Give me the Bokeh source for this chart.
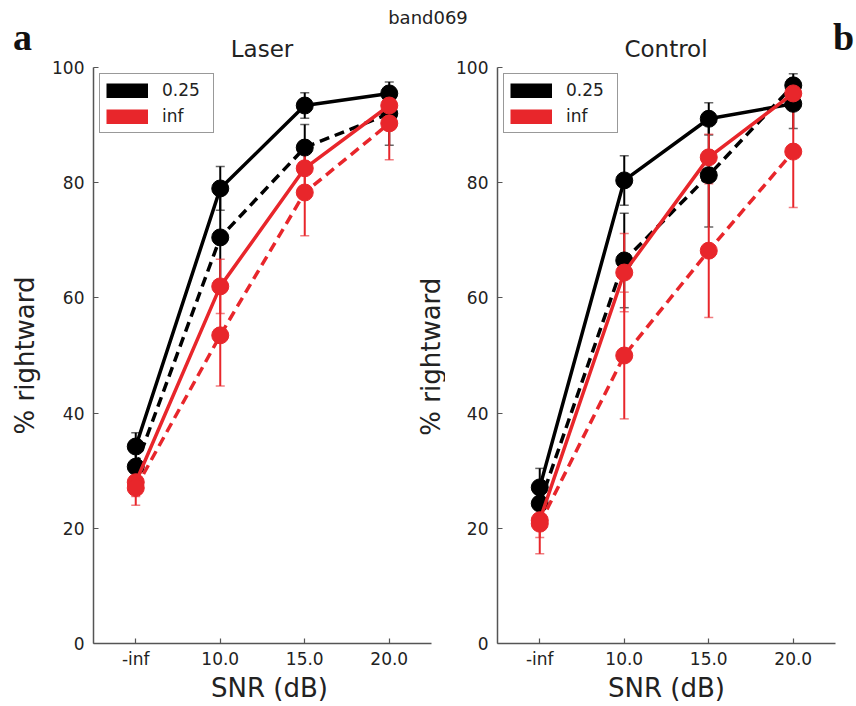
import math
from bokeh.plotting import figure
from bokeh.models import (Range1d, Whisker, TeeHead, ColumnDataSource,
                          Legend, LegendItem, Label, FixedTicker, Div)
from bokeh.layouts import row, column
from bokeh.embed import file_html
from bokeh.resources import INLINE

# ---------------- data ----------------
snr_labels = ["-inf", "10.0", "15.0", "20.0"]
legend_labels = ["0.25", "inf"]
suptitle = "band069"
panel_titles = ["Laser", "Control"]
panel_letters = ["a", "b"]
y_label = "% rightward"
x_label = "SNR (dB)"

laser_black_solid = [34.2, 79.0, 93.4, 95.5]
laser_black_solid_err = [2.4, 3.8, 2.2, 1.2]
laser_black_dashed = [30.7, 70.5, 86.1, 92.0]
laser_black_dashed_err = [2.5, 7.8, 4.0, 5.5]
laser_red_solid = [28.0, 62.0, 82.5, 93.4]
laser_red_solid_err = [2.5, 4.7, 4.0, 2.5]
laser_red_dashed = [27.0, 53.5, 78.3, 90.3]
laser_red_dashed_err = [3.0, 8.8, 7.5, 6.3]

control_black_solid = [27.1, 80.4, 91.1, 93.7]
control_black_solid_err = [3.3, 4.3, 2.8, 4.3]
control_black_dashed = [24.3, 66.5, 81.3, 96.9]
control_black_dashed_err = [3.0, 8.2, 9.0, 2.0]
control_red_solid = [21.4, 64.4, 84.4, 95.5]
control_red_solid_err = [3.0, 6.8, 4.0, 2.5]
control_red_dashed = [20.8, 50.0, 68.2, 85.4]
control_red_dashed_err = [5.2, 11.0, 11.6, 9.7]

FONT = "DejaVu Sans"
RED = "#e8262b"
BLACK = "#000000"
AXC = "#555555"
TXT = "#222222"
XPOS = list(range(len(snr_labels)))


def add_series(p, vals, errs, color, dash):
    src = ColumnDataSource(dict(x=XPOS, y=vals,
                                lo=[v - e for v, e in zip(vals, errs)],
                                hi=[v + e for v, e in zip(vals, errs)]))
    w = Whisker(base="x", lower="lo", upper="hi", source=src,
                line_color=color, line_width=2,
                lower_head=TeeHead(size=9, line_color=color, line_width=1.5, line_alpha=0.6),
                upper_head=TeeHead(size=9, line_color=color, line_width=1.5, line_alpha=0.6))
    p.add_layout(w)
    p.line("x", "y", source=src, line_color=color, line_width=3.5, line_dash=dash)
    p.scatter("x", "y", source=src, size=17, fill_color=color, line_color=color)


def make_panel(series, width, bl, br, x_end):
    p = figure(width=width, height=649,
               x_range=Range1d(-0.5, x_end), y_range=Range1d(0, 100),
               output_backend="svg", toolbar_location=None,
               min_border_left=bl, min_border_right=br,
               min_border_top=10, min_border_bottom=63)
    p.outline_line_color = None
    p.xgrid.grid_line_color = None
    p.ygrid.grid_line_color = None
    p.background_fill_color = None
    p.border_fill_color = None

    for ax in (p.xaxis[0], p.yaxis[0]):
        ax.axis_line_color = AXC
        ax.axis_line_width = 1.5
        ax.major_tick_line_color = AXC
        ax.major_tick_line_width = 1.2
        ax.major_tick_in = 5
        ax.major_tick_out = 0
        ax.minor_tick_line_color = None
        ax.major_label_text_font = FONT
        ax.major_label_text_font_size = "17px"
        ax.major_label_text_color = TXT
        ax.axis_label_text_font = FONT
        ax.axis_label_text_font_size = "26px"
        ax.axis_label_text_font_style = "normal"
        ax.axis_label_text_color = TXT
    p.yaxis.ticker = FixedTicker(ticks=[0, 20, 40, 60, 80, 100])
    p.yaxis.major_label_standoff = 9
    p.xaxis.ticker = FixedTicker(ticks=XPOS)
    p.xaxis.major_label_overrides = {i: s for i, s in zip(XPOS, snr_labels)}
    p.xaxis.bounds = (-0.5, len(snr_labels) - 0.5)
    p.xaxis.major_label_standoff = 5
    p.xaxis.axis_label = x_label
    p.xaxis.axis_label_standoff = 1

    for vals, errs, color, dash in series:
        add_series(p, vals, errs, color, dash)

    r1 = p.line(x=[XPOS[0]], y=[float("nan")], line_color=BLACK, line_width=15)
    r2 = p.line(x=[XPOS[0]], y=[float("nan")], line_color=RED, line_width=15)
    leg = Legend(items=[LegendItem(label=legend_labels[0], renderers=[r1]),
                        LegendItem(label=legend_labels[1], renderers=[r2])],
                 location="top_left", margin=6, padding=6, spacing=6,
                 glyph_width=42, glyph_height=15, label_width=45, label_height=20,
                 label_standoff=14, border_line_color="#333333", border_line_width=1.5,
                 label_text_font=FONT, label_text_font_size="17px",
                 label_text_color=TXT, background_fill_alpha=1.0)
    p.add_layout(leg)
    return p


# left panel: frame extends 14 px past the axis end so the right panel's
# y label (which sits in the gap between panels) can be drawn
p1 = make_panel([
    (laser_black_solid, laser_black_solid_err, BLACK, "solid"),
    (laser_black_dashed, laser_black_dashed_err, BLACK, "10 6"),
    (laser_red_solid, laser_red_solid_err, RED, "solid"),
    (laser_red_dashed, laser_red_dashed_err, RED, "10 6"),
], 445, 93, 0, 3.5 + 14 / 84.5)
p1.yaxis.axis_label = y_label
p1.yaxis.axis_label_standoff = 9

p2 = make_panel([
    (control_black_solid, control_black_solid_err, BLACK, "solid"),
    (control_black_dashed, control_black_dashed_err, BLACK, "10 6"),
    (control_red_solid, control_red_solid_err, RED, "solid"),
    (control_red_dashed, control_red_dashed_err, RED, "10 6"),
], 411, 52, 21, 3.5)

p1.add_layout(Label(x=3.49, y=49.8, text=y_label, angle=math.pi / 2,
                    text_align="center", text_baseline="middle", text_font=FONT,
                    text_font_size="26px", text_color=TXT))

sans = "font-family:'DejaVu Sans';color:#222222;position:absolute;white-space:nowrap;"
serif = ("font-family:'Liberation Serif';font-weight:bold;color:#111111;"
         "position:absolute;white-space:nowrap;font-size:38px;line-height:42px;top:16px;")
html = (
    '<div style="position:relative;width:856px;height:57px;">'
    f'<div style="{sans}left:0px;top:8px;width:856px;text-align:center;font-size:18px;line-height:20px;">{suptitle}</div>'
    f'<div style="{sans}left:93px;top:36px;width:338px;text-align:center;font-size:23px;line-height:26px;">{panel_titles[0]}</div>'
    f'<div style="{sans}left:497px;top:36px;width:338px;text-align:center;font-size:23px;line-height:26px;">{panel_titles[1]}</div>'
    f'<div style="{serif}left:13px;">{panel_letters[0]}</div>'
    f'<div style="{serif}left:833px;">{panel_letters[1]}</div>'
    '</div>'
)
head = Div(text=html, width=856, height=57, margin=0)

layout = column(head, row(p1, p2, spacing=0), spacing=0)
open("out.html", "w").write(file_html(layout, INLINE))
